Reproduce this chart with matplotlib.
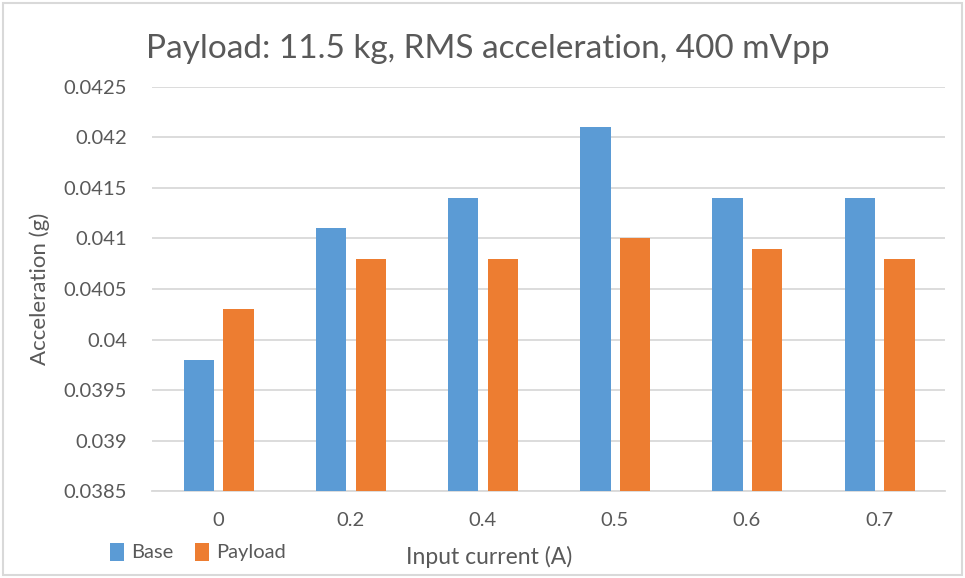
import matplotlib.pyplot as plt
import numpy as np
from matplotlib.patches import Rectangle

plt.rcParams['font.family'] = ['Lato', 'DejaVu Sans']

# input current settings and measured RMS acceleration (g)
currents = ['0', '0.2', '0.4', '0.5', '0.6', '0.7']
base = [0.0398, 0.0411, 0.0414, 0.0421, 0.0414, 0.0414]
payload = [0.0403, 0.0408, 0.0408, 0.0410, 0.0409, 0.0408]
yticks = [0.0385, 0.039, 0.0395, 0.04, 0.0405, 0.041, 0.0415, 0.042, 0.0425]

blue = '#5b9bd5'
orange = '#ed7d31'
grey = '#595959'
grid_c = '#d9d9d9'

fig = plt.figure(figsize=(9.65, 5.78), dpi=100)
ax = fig.add_axes([0.1575, 0.1505, 0.8218, 0.699])

x = np.arange(len(currents))
w = 0.23
ax.bar(x - 0.145, base, w, color=blue, label='Base', zorder=3)
ax.bar(x + 0.155, payload, w, color=orange, label='Payload', zorder=3)

ax.set_xlim(-0.5, len(currents) - 0.5)
ax.set_ylim(0.0385, 0.0425)
ax.set_yticks(yticks)
ax.set_yticklabels([f'{v:g}' for v in yticks])
ax.set_xticks(x)
ax.set_xticklabels(currents)
ax.yaxis.grid(True, color=grid_c, linewidth=1.3, zorder=0)
ax.tick_params(axis='both', length=0, labelsize=14.5, colors=grey)
ax.tick_params(axis='x', pad=15)
ax.tick_params(axis='y', pad=18)
for s in ['top', 'right', 'left']:
    ax.spines[s].set_visible(False)
ax.spines['bottom'].set_color(grid_c)
ax.spines['bottom'].set_linewidth(1.3)

ax.set_ylabel('Acceleration (g)', fontsize=16, color=grey, labelpad=10)
fig.text(0.507, 0.036, 'Input current (A)', fontsize=16.5, color=grey,
         ha='center', va='center')
fig.text(0.505, 0.915, 'Payload: 11.5 kg, RMS acceleration, 400 mVpp',
         fontsize=24, color=grey, ha='center', va='center')

fig.legend(loc='center left', bbox_to_anchor=(0.095, 0.045), ncol=2,
           frameon=False, fontsize=14.5, labelcolor=grey, handlelength=0.7,
           handleheight=1.0, handletextpad=0.35, columnspacing=1.1)

# thin frame around the chart
fig.patches.append(Rectangle((0.003, 0.005), 0.994, 0.99, transform=fig.transFigure,
                             fill=False, edgecolor=grid_c, linewidth=1.5))

fig.savefig('out.png', dpi=100)
